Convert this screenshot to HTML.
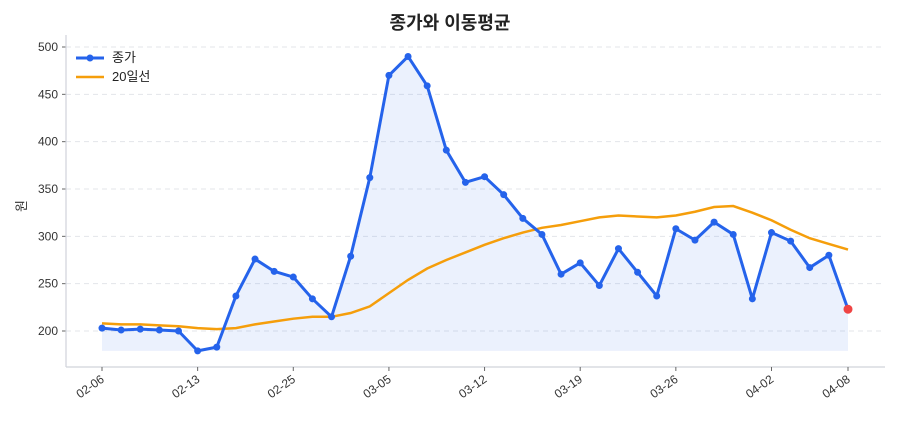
<!DOCTYPE html>
<html><head><meta charset="utf-8"><style>
body{margin:0;background:#fff;font-family:"Liberation Sans","Noto Sans CJK KR",sans-serif}
svg text{font-family:"Liberation Sans","Noto Sans CJK KR",sans-serif}
</style></head><body>
<svg id="chart" width="900" height="420"></svg>
<script>
const labels=['02-06','02-13','02-25','03-05','03-12','03-19','03-26','04-02','04-08'];
const labelIdx=[0,5,10,15,20,25,30,35,39];
const close=[203,201,202,201,200,179,183,237,276,263,257,234,215,279,362,470,490,459,391,357,363,344,319,302,260,272,248,287,262,237,308,296,315,302,234,304,295,267,280,223];
const ma20=[208,207,207,206,205,203,202,203,207,210,213,215,215,219,226,240,254,266,275,283,291,298,304,309,312,316,320,322,321,320,322,326,331,332,325,317,307,298,292,286];
const yTicks=[200,250,300,350,400,450,500];
const NS='http://www.w3.org/2000/svg';
const svg=document.getElementById('chart');
const X=i=>102+i*(848-102)/(close.length-1);
const Y=v=>331-(v-200)*(284/300);
function el(t,a,p){const e=document.createElementNS(NS,t);for(const k in a)e.setAttribute(k,a[k]);(p||svg).appendChild(e);return e;}
let t=el('text',{x:450,y:29,'text-anchor':'middle','font-size':18,'font-weight':'bold',fill:'#222'});t.textContent='종가와 이동평균';


yTicks.forEach(v=>{
 const g=el('line',{x1:66,x2:885,y1:Y(v),y2:Y(v),stroke:'#e3e5ea','stroke-dasharray':'5,4'});
 
 
 el('line',{x1:62,x2:66,y1:Y(v),y2:Y(v),stroke:'#666'});
 const l=el('text',{x:58,y:Y(v)+4,'text-anchor':'end','font-size':12,fill:'#333'});l.textContent=v;
 
 
});
const yl=el('text',{x:26,y:206,'text-anchor':'middle','font-size':13,fill:'#333',transform:'rotate(-90 26 206)'});yl.textContent='원';


el('line',{x1:66,x2:66,y1:35,y2:367,stroke:'#d0d3da','stroke-width':1.2});
el('line',{x1:66,x2:885,y1:367,y2:367,stroke:'#d0d3da','stroke-width':1.2});
labelIdx.forEach((i,k)=>{
 el('line',{x1:X(i),x2:X(i),y1:367,y2:371,stroke:'#666'});
 const l=el('text',{x:X(i)+3,y:381,'text-anchor':'end','font-size':12,fill:'#333',transform:`rotate(-35 ${X(i)+3} 381)`});l.textContent=labels[k];
 
 
});
let area='M'+X(0)+','+Y(179);close.forEach((v,i)=>area+=' L'+X(i)+','+Y(v));area+=' L'+X(close.length-1)+','+Y(179)+'Z';
const a=el('path',{d:area,fill:'#2563eb','fill-opacity':0.09});


const ml=el('polyline',{points:ma20.map((v,i)=>X(i)+','+Y(v)).join(' '),fill:'none',stroke:'#f59e0b','stroke-width':2.5});


const cl=el('polyline',{points:close.map((v,i)=>X(i)+','+Y(v)).join(' '),fill:'none',stroke:'#2563eb','stroke-width':3,'stroke-linejoin':'round'});


close.forEach((v,i)=>{
 const last=i===close.length-1;
 const c=el('circle',{cx:X(i),cy:Y(v),r:last?4.5:3.5,fill:last?'#ef4444':'#2563eb'});
 
 
});
const lg=el('g',{});


el('line',{x1:76,x2:104,y1:58,y2:58,stroke:'#2563eb','stroke-width':3},lg);
el('circle',{cx:90,cy:58,r:3.5,fill:'#2563eb'},lg);
let lt=el('text',{x:112,y:62,'font-size':13,fill:'#222'},lg);lt.textContent='종가';
el('line',{x1:76,x2:104,y1:77,y2:77,stroke:'#f59e0b','stroke-width':2.5},lg);
lt=el('text',{x:112,y:81,'font-size':13,fill:'#222'},lg);lt.textContent='20일선';
</script>
</body></html>
